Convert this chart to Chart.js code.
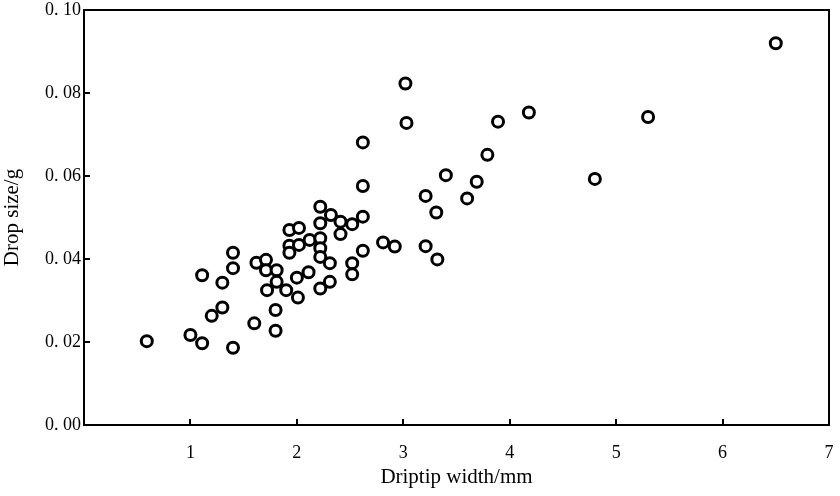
<!DOCTYPE html>
<html>
<head>
<meta charset="utf-8">
<script src="https://cdn.jsdelivr.net/npm/chart.js@4/dist/chart.umd.min.js"></script>
<style>
  html, body { margin: 0; padding: 0; background: #fff; }
  #wrap { width: 840px; height: 496px; }
</style>
</head>
<body>
<div id="wrap"><canvas id="chart_drop"></canvas></div>
<script>
// driptip width (mm) and drop size (g)
var driptipWidth = [
  0.59, 1.00, 1.11, 1.40, 1.11, 1.20, 1.30, 1.30, 1.40, 1.40,
  1.60, 1.62, 1.71, 1.71, 1.72, 1.81, 1.81, 1.80, 1.80, 1.90,
  1.93, 1.93, 1.93, 2.01, 2.00, 2.11, 2.02, 2.02, 2.12, 2.22,
  2.22, 2.32, 2.22, 2.41, 2.52, 2.62, 2.41, 2.22, 2.22, 2.31,
  2.31, 2.22, 2.52, 2.52, 2.62, 2.81, 2.92, 2.62, 2.62, 3.02,
  3.03, 3.21, 3.31, 3.21, 3.32, 3.40, 3.60, 3.69, 3.79, 3.89,
  4.18, 4.80, 5.30, 6.50
];
var dropSize = [
  0.0202, 0.0217, 0.0197, 0.0186, 0.0361, 0.0263, 0.0283, 0.0343, 0.0378, 0.0415,
  0.0245, 0.0391, 0.0398, 0.0373, 0.0325, 0.0373, 0.0345, 0.0277, 0.0227, 0.0325,
  0.0470, 0.0432, 0.0415, 0.0307, 0.0355, 0.0368, 0.0475, 0.0434, 0.0446, 0.0450,
  0.0526, 0.0506, 0.0486, 0.0490, 0.0484, 0.0502, 0.0460, 0.0426, 0.0405, 0.0390,
  0.0345, 0.0329, 0.0390, 0.0363, 0.0420, 0.0440, 0.0430, 0.0576, 0.0681, 0.0823,
  0.0728, 0.0552, 0.0512, 0.0431, 0.0399, 0.0602, 0.0546, 0.0586, 0.0651, 0.0731,
  0.0753, 0.0593, 0.0742, 0.0920
];
var xTicks = [1, 2, 3, 4, 5, 6, 7];
var yTicks = [0, 0.02, 0.04, 0.06, 0.08, 0.10];

var points = [];
for (var i = 0; i < driptipWidth.length; i++) {
  points.push({x: driptipWidth[i], y: dropSize[i]});
}

var serif = 'Liberation Serif';

// frame round the plot and the little inward ticks
var frameTicks = {
  id: 'frameTicks',
  afterDatasetsDraw: function(chart) {
    var ctx = chart.ctx;
    var a = chart.chartArea;
    var xs = chart.scales.x, ys = chart.scales.y;
    ctx.save();
    ctx.strokeStyle = '#000';
    ctx.lineWidth = 2;
    ctx.strokeRect(a.left, a.top, a.right - a.left, a.bottom - a.top);
    ctx.beginPath();
    xTicks.forEach(function(v) {
      if (v >= 7) return;
      var px = Math.round(xs.getPixelForValue(v));
      ctx.moveTo(px, a.bottom);
      ctx.lineTo(px, a.bottom - 6);
    });
    yTicks.forEach(function(v) {
      if (v <= 0 || v >= 0.1) return;
      var py = Math.round(ys.getPixelForValue(v));
      ctx.moveTo(a.left, py);
      ctx.lineTo(a.left + 6, py);
    });
    ctx.stroke();
    ctx.restore();
  }
};

var ctxDrop = document.getElementById('chart_drop').getContext('2d');
var chartDrop = new Chart(ctxDrop, {
  type: 'scatter',
  data: {
    datasets: [{
      label: 'drops',
      data: points,
      pointRadius: 5.5,
      pointHoverRadius: 5.5,
      pointBorderWidth: 3,
      pointBackgroundColor: '#fff',
      pointBorderColor: '#000'
    }]
  },
  options: {
    responsive: true,
    maintainAspectRatio: false,
    animation: false,
    layout: { padding: { top: 10, right: 11, left: 0, bottom: 0 } },
    plugins: { legend: { display: false }, tooltip: { enabled: false } },
    scales: {
      x: {
        type: 'linear',
        min: 0,
        max: 7,
        afterFit: function(s) {
          s.height = 71;
          s.paddingLeft = 0;
          s.paddingRight = 0;
        },
        afterBuildTicks: function(s) {
          s.ticks = xTicks.map(function(v) { return {value: v}; });
        },
        grid: { display: false, drawTicks: false },
        border: { display: false },
        ticks: {
          padding: 17,
          color: '#000',
          font: { family: serif, size: 18 },
          callback: function(v) { return String(v); }
        },
        title: {
          display: true,
          text: 'Driptip width/mm',
          color: '#000',
          font: { family: serif, size: 21 },
          padding: { top: 0, bottom: 6 }
        }
      },
      y: {
        type: 'linear',
        min: 0,
        max: 0.1,
        afterFit: function(s) {
          s.width = 84;
          s.paddingTop = 0;
          s.paddingBottom = 0;
        },
        afterBuildTicks: function(s) {
          s.ticks = yTicks.map(function(v) { return {value: v}; });
        },
        grid: { display: false, drawTicks: false },
        border: { display: false },
        ticks: {
          padding: 3,
          color: '#000',
          font: { family: serif, size: 18 },
          callback: function(v) { return v.toFixed(2).replace('.', '. '); }
        },
        title: {
          display: true,
          text: 'Drop size/g',
          color: '#000',
          font: { family: serif, size: 21 },
          padding: { top: 0, bottom: 0 }
        }
      }
    }
  },
  plugins: [frameTicks]
});
</script>
</body>
</html>
